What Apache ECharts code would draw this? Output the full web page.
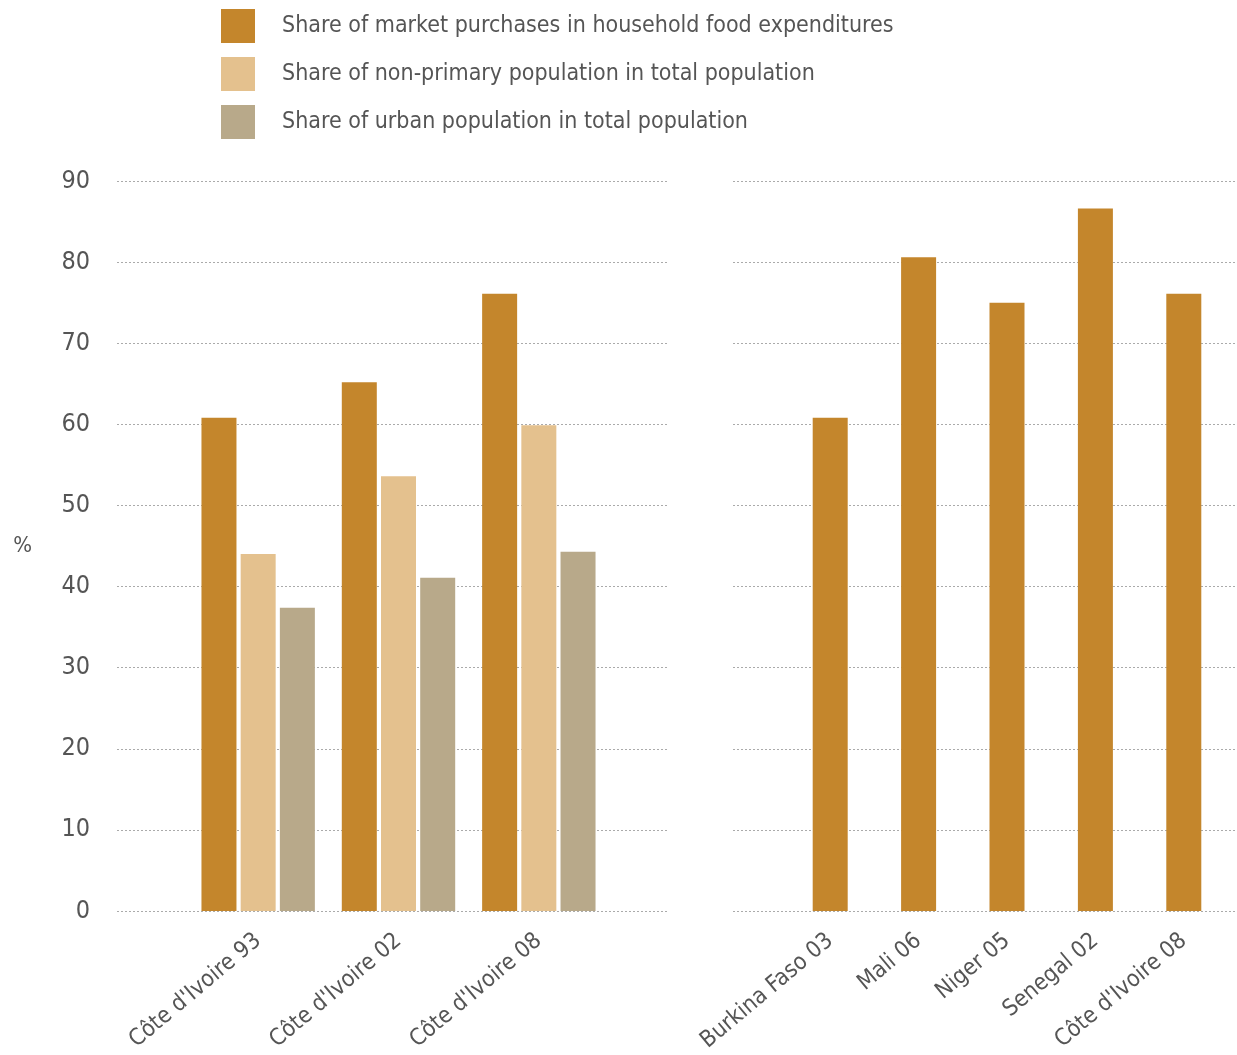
<!DOCTYPE html>
<html><head><meta charset="utf-8">
<script src="https://cdn.jsdelivr.net/npm/echarts@6/dist/echarts.min.js"></script>
<style>html,body{margin:0;padding:0;background:#fff}#c{width:1237px;height:1055px}</style>
</head><body><div id="c"></div>
<script>
const seriesNames = [
  'Share of market purchases in household food expenditures',
  'Share of non-primary population in total population',
  'Share of urban population in total population'
];
const leftCategories = ["Côte d'Ivoire 93", "Côte d'Ivoire 02", "Côte d'Ivoire 08"];
const leftMarket = [60.8, 65.2, 76.1];
const leftNonPrimary = [44.0, 53.6, 59.9];
const leftUrban = [37.4, 41.1, 44.3];
const rightCategories = ['Burkina Faso 03', 'Mali 06', 'Niger 05', 'Senegal 02', "Côte d'Ivoire 08"];
const rightMarket = [60.8, 80.6, 75.0, 86.6, 76.1];
const yTicks = [0, 10, 20, 30, 40, 50, 60, 70, 80, 90];

const colors = ['#C4862C', '#E4C18E', '#B8A98A'];
const FONT = '"Liberation Sans Narrow", "DejaVu Sans Condensed", "Roboto", sans-serif';
const TXT = '#555';
const gTop = 181, gBottom = 144;

const chart = echarts.init(document.getElementById('c'));
const yBase = (show) => ({
  type: 'value', min: yTicks[0], max: yTicks[yTicks.length - 1], interval: 10,
  axisLine: {show: false}, axisTick: {show: false},
  axisLabel: {show: show, fontFamily: FONT, fontSize: 25, color: TXT, margin: 27},
  splitLine: {show: show, lineStyle: {type: [2, 2], color: '#aaa', width: 1}}
});
const xLab = {rotate: 40, fontFamily: FONT, fontSize: 23, color: TXT, margin: 27, interval: 0};

chart.setOption({
  animation: false,
  legend: {
    orient: 'vertical', left: 221, top: 9, padding: 0, itemWidth: 34, itemHeight: 34, itemGap: 14,
    icon: 'rect', data: seriesNames,
    textStyle: {fontFamily: FONT, fontSize: 23, color: TXT, padding: [0, 0, 0, 22]}
  },
  grid: [
    {left: 117, width: 552, top: gTop, bottom: gBottom},
    {left: 188, width: 421, top: gTop, bottom: gBottom},
    {left: 733, width: 504, top: gTop, bottom: gBottom},
    {left: 786, width: 442, top: gTop, bottom: gBottom}
  ],
  xAxis: [
    {gridIndex: 0, type: 'category', data: [''], show: false},
    {gridIndex: 1, type: 'category', data: leftCategories, axisLine: {show: false}, axisTick: {show: false}, axisLabel: xLab},
    {gridIndex: 2, type: 'category', data: [''], show: false},
    {gridIndex: 3, type: 'category', data: rightCategories, axisLine: {show: false}, axisTick: {show: false}, axisLabel: xLab}
  ],
  yAxis: [
    Object.assign(yBase(true), {gridIndex: 0, name: '%', nameLocation: 'middle', nameRotate: 0, nameGap: 85,
      nameTextStyle: {fontFamily: FONT, fontSize: 22, color: TXT}}),
    Object.assign(yBase(false), {gridIndex: 1}),
    Object.assign(yBase(true), {gridIndex: 2, axisLabel: {show: false}}),
    Object.assign(yBase(false), {gridIndex: 3})
  ],
  series: [
    {name: seriesNames[0], type: 'bar', xAxisIndex: 1, yAxisIndex: 1, data: leftMarket, barWidth: 35, barGap: '12%', itemStyle: {color: colors[0]}},
    {name: seriesNames[1], type: 'bar', xAxisIndex: 1, yAxisIndex: 1, data: leftNonPrimary, barWidth: 35, barGap: '12%', itemStyle: {color: colors[1]}},
    {name: seriesNames[2], type: 'bar', xAxisIndex: 1, yAxisIndex: 1, data: leftUrban, barWidth: 35, barGap: '12%', itemStyle: {color: colors[2]}},
    {name: seriesNames[0], type: 'bar', xAxisIndex: 3, yAxisIndex: 3, data: rightMarket, barWidth: 35, itemStyle: {color: colors[0]}}
  ]
});
</script></body></html>
